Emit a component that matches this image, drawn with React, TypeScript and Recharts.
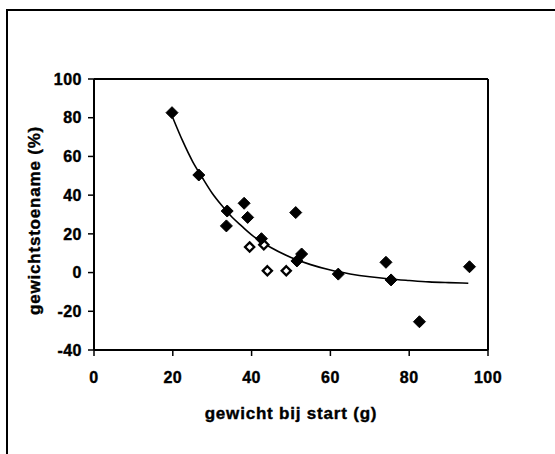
import {
  ScatterChart, Scatter, XAxis, YAxis, ReferenceLine, Label,
} from 'recharts';

// measured points (g at start, % weight gain)
const filledX = [19.8, 26.6, 33.8, 33.6, 38.1, 39.0, 42.5, 51.2, 51.5, 52.7, 62.0, 74.1, 75.4, 82.6, 95.3];
const filledY = [82.6, 50.4, 31.8, 24.1, 35.8, 28.5, 17.5, 31.0, 6.0, 9.6, -0.8, 5.3, -3.8, -25.4, 3.0];

const openX = [39.5, 43.1, 44.0, 48.8];
const openY = [13.2, 14.4, 0.9, 0.9];

// fitted trend curve
const curveX = [20, 22.5, 25, 27.5, 30, 32.5, 35, 37.5, 40, 45, 50, 55, 60, 65, 70, 75, 80, 85, 90, 95];
const curveY = [80, 68, 57.5, 49, 41, 34.5, 28.7, 24, 19.5, 12.8, 7.8, 4.1, 1.3, -0.7, -2.2, -3.3, -4.1, -4.8, -5.2, -5.5];

const xTicks = [0, 20, 40, 60, 80, 100];
const yTicks = [-40, -20, 0, 20, 40, 60, 80, 100];

const filled = filledX.map((x, i) => ({ x, y: filledY[i] }));
const open = openX.map((x, i) => ({ x, y: openY[i] }));
const curve = curveX.map((x, i) => ({ x, y: curveY[i] }));

const FONT = '"Liberation Sans", Arial, sans-serif';
const tickStyle = {
  fontSize: 16, fontWeight: 700, fill: '#000', stroke: '#000', strokeWidth: 0.4,
  fontFamily: FONT, letterSpacing: 0.5,
};
const titleStyle = { fontSize: 17, fontWeight: 700, fontFamily: FONT, letterSpacing: 0.8 };

function Diamond(props: any) {
  const { cx, cy, hollow } = props;
  const r = hollow ? 4.6 : 6;
  const pts = `${cx},${cy - r} ${cx + r},${cy} ${cx},${cy + r} ${cx - r},${cy}`;
  return hollow
    ? <polygon points={pts} fill="#fff" stroke="#000" strokeWidth={2.3} />
    : <polygon points={pts} fill="#000" stroke="#000" strokeWidth={1} />;
}

export default function App() {
  return (
    <div style={{ position: 'absolute', left: 0, top: 0, width: 555, height: 454, overflow: 'hidden', background: '#fff' }}>
      {/* scanned frame */}
      <div style={{ position: 'absolute', left: 6, top: 9, width: 620, height: 520, borderLeft: '2px solid #000', borderTop: '2px solid #000' }} />
      <ScatterChart width={555} height={454} margin={{ top: 79, right: 67, bottom: 0, left: 0 }} style={{ position: 'absolute', left: 0, top: 0 }}>
        <XAxis
          type="number" dataKey="x" domain={[0, 100]} ticks={xTicks}
          height={104} tickSize={6} tickMargin={16}
          axisLine={{ stroke: '#000', strokeWidth: 2 }}
          tickLine={{ stroke: '#000', strokeWidth: 1.5 }}
          tick={tickStyle}
        >
          <Label
            content={({ viewBox }: any) => (
              <text
                x={viewBox.x + viewBox.width / 2} y={419}
                textAnchor="middle" style={titleStyle}
                fill="#000" stroke="#000" strokeWidth={0.4}
              >
                gewicht bij start (g)
              </text>
            )}
          />
        </XAxis>
        <YAxis
          type="number" dataKey="y" domain={[-40, 100]} ticks={yTicks}
          width={94} tickSize={6} tickMargin={6}
          axisLine={{ stroke: '#000', strokeWidth: 2 }}
          tickLine={{ stroke: '#000', strokeWidth: 1.5 }}
          tick={tickStyle}
        >
          <Label
            content={({ viewBox }: any) => {
              const cy = viewBox.y + viewBox.height / 2 + 6;
              return (
                <text
                  x={40} y={cy}
                  transform={`rotate(-90, 40, ${cy})`}
                  textAnchor="middle" style={titleStyle}
                  fill="#000" stroke="#000" strokeWidth={0.4}
                >
                  gewichtstoename (%)
                </text>
              );
            }}
          />
        </YAxis>
        <ReferenceLine y={100} stroke="#000" strokeWidth={2} />
        <ReferenceLine x={100} stroke="#000" strokeWidth={2} />
        <Scatter
          data={curve} line={{ stroke: '#000', strokeWidth: 1.6 }} lineJointType="monotoneX"
          shape={() => null} isAnimationActive={false}
        />
        <Scatter data={open} shape={(p: any) => <Diamond {...p} hollow />} isAnimationActive={false} />
        <Scatter data={filled} shape={(p: any) => <Diamond {...p} />} isAnimationActive={false} />
      </ScatterChart>
    </div>
  );
}
